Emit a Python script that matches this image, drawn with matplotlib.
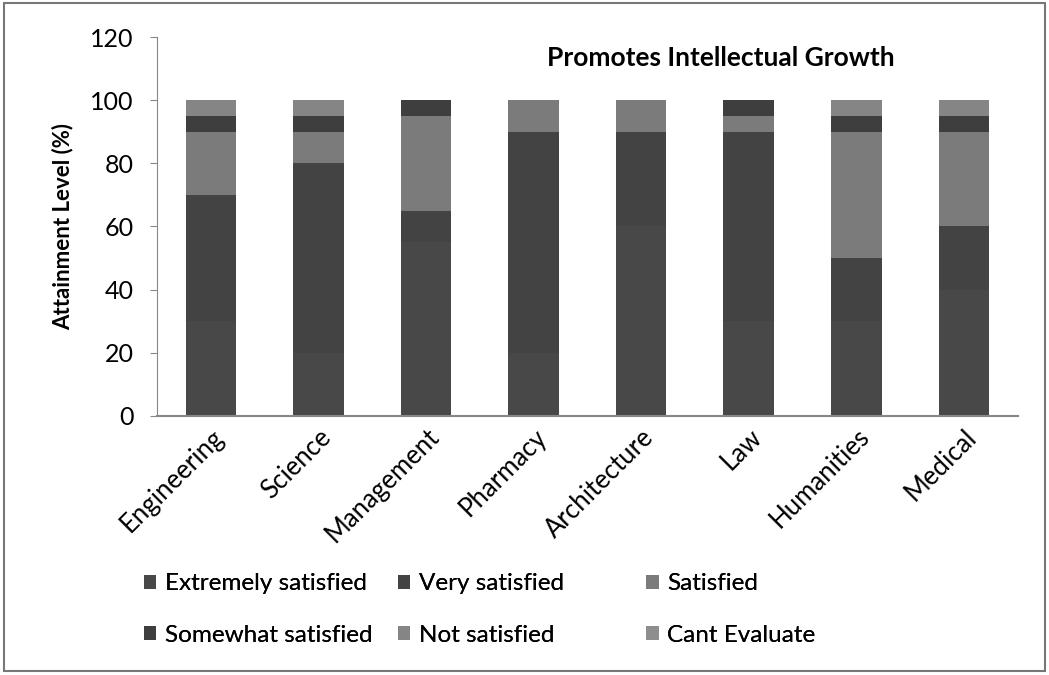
import matplotlib.pyplot as plt
import numpy as np
from matplotlib.patches import Rectangle

# Kategorier og verdier (%)
fag = ["Engineering", "Science", "Management", "Pharmacy",
       "Architecture", "Law", "Humanities", "Medical"]
serier = ["Extremely satisfied", "Very satisfied", "Satisfied",
          "Somewhat satisfied", "Not satisfied", "Cant Evaluate"]

extremely = [30, 20, 55, 20, 60, 30, 30, 40]
very = [40, 60, 10, 70, 30, 60, 20, 20]
satisfied = [20, 10, 30, 10, 10, 5, 40, 30]
somewhat = [5, 5, 5, 0, 0, 5, 5, 5]
not_sat = [5, 5, 0, 0, 0, 0, 5, 5]
cant = [0, 0, 0, 0, 0, 0, 0, 0]

verdier = [extremely, very, satisfied, somewhat, not_sat, cant]
farger = ["#484848", "#434343", "#7b7b7b", "#3e3e3e", "#858585", "#8e8e8e"]

plt.rcParams['font.family'] = ['Lato', 'DejaVu Sans']

fig = plt.figure(figsize=(10.49, 6.75), dpi=100)
ax = fig.add_axes([0.150, 0.384, 0.820, 0.561])

x = np.arange(len(fag))
bunn = np.zeros(len(fag))
for navn, v, farge in zip(serier, verdier, farger):
    ax.bar(x, v, 0.47, bottom=bunn, color=farge, label=navn)
    bunn += np.array(v)

ax.set_ylim(0, 120)
ax.set_xlim(-0.5, len(fag) - 0.5)
ax.set_yticks(range(0, 121, 20))
ax.tick_params(axis='y', labelsize=18, length=5, color="#888888", pad=12)
ax.tick_params(axis='x', length=0, labelsize=18.5, pad=6)
ax.set_xticks(x)
ax.set_xticklabels(fag, rotation=45, ha="right", rotation_mode="anchor")
for s in ["top", "right"]:
    ax.spines[s].set_visible(False)
ax.spines["left"].set_color("#888888")
ax.spines["bottom"].set_color("#888888")
ax.spines["bottom"].set_linewidth(1.5)

ax.set_ylabel("Attainment Level (%)", fontsize=16, fontweight="bold", labelpad=12)
ax.text(0.655, 0.945, "Promotes Intellectual Growth", transform=ax.transAxes,
        ha="center", va="center", fontsize=19, fontweight="bold")

# Forklaring i tre kolonner
handles, labels = ax.get_legend_handles_labels()
kol_x = [0.128, 0.370, 0.607]
for i, kx in enumerate(kol_x):
    leg = fig.legend([handles[i], handles[i + 3]], [labels[i], labels[i + 3]],
                     loc="upper left", bbox_to_anchor=(kx, 0.165),
                     frameon=False, fontsize=17.5, handlelength=0.5,
                     handleheight=0.5, handletextpad=0.35, labelspacing=1.25,
                     borderaxespad=0)
    fig.add_artist(leg)

# Ramme rundt hele figuren
fig.add_artist(Rectangle((0.004, 0.006), 0.992, 0.99, transform=fig.transFigure,
                         fill=False, edgecolor="#777777", linewidth=1.5))

fig.savefig("out.png", dpi=100)
